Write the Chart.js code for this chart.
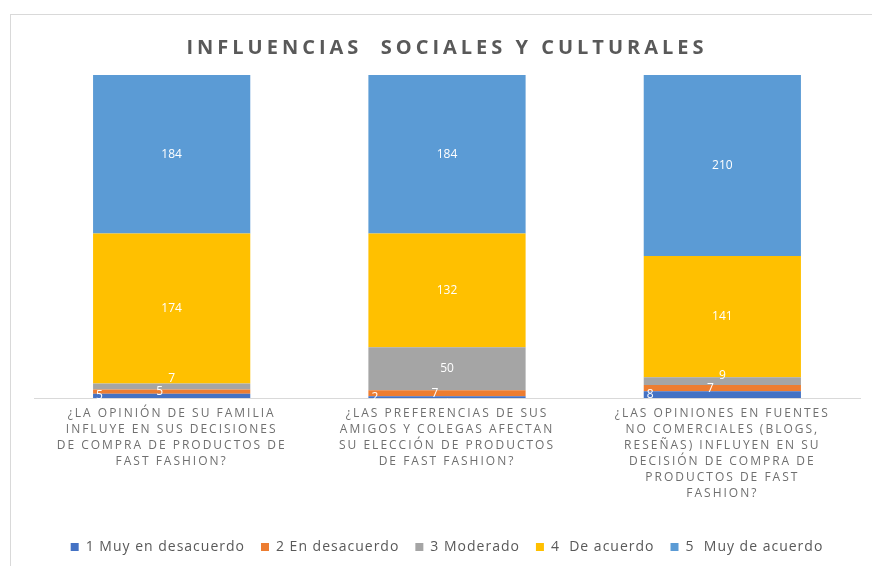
<!DOCTYPE html>
<html><head><meta charset="utf-8">
<script src="https://cdn.jsdelivr.net/npm/chart.js@4.4.1/dist/chart.umd.min.js"></script>
<style>
html,body{margin:0;padding:0;background:#fff;overflow:hidden;width:872px;height:566px}
#frame{position:absolute;left:10px;top:14px;width:900px;height:600px;border:1px solid #d9d9d9;box-sizing:border-box}
#wrap{position:absolute;left:0;top:0;width:872px;height:566px}
</style></head><body>
<div id="frame"></div>
<div id="wrap"><canvas id="c" width="872" height="566"></canvas></div>
<script>
const categories = [
  ['¿LA OPINIÓN DE SU FAMILIA','INFLUYE EN SUS DECISIONES','DE COMPRA DE PRODUCTOS DE','FAST FASHION?'],
  ['¿LAS PREFERENCIAS DE SUS','AMIGOS Y COLEGAS AFECTAN','SU ELECCIÓN DE PRODUCTOS','DE FAST FASHION?'],
  ['¿LAS OPINIONES EN FUENTES','NO COMERCIALES (BLOGS,','RESEÑAS) INFLUYEN EN SU','DECISIÓN DE COMPRA DE','PRODUCTOS DE FAST','FASHION?']
];
const seriesNames = ['1 Muy en desacuerdo','2 En desacuerdo','3 Moderado','4  De acuerdo','5  Muy de acuerdo'];
const muyEnDesacuerdo = [5, 2, 8];
const enDesacuerdo = [5, 7, 7];
const moderado = [7, 50, 9];
const deAcuerdo = [174, 132, 141];
const muyDeAcuerdo = [184, 184, 210];
const seriesColors = ['#4472C4','#ED7D31','#A5A5A5','#FFC000','#5B9BD5'];
const chartTitle = 'INFLUENCIAS  SOCIALES Y CULTURALES';

const seriesValues = [muyEnDesacuerdo, enDesacuerdo, moderado, deAcuerdo, muyDeAcuerdo];

const spacingPlugin = {
  id: 'spacing',
  beforeLayout(chart) {
    const ctx = chart.ctx;
    const wrap = (obj, name, sp) => {
      if (!obj || obj['_sp_' + name]) return;
      const o = obj[name];
      obj[name] = function(...a) { ctx.save(); ctx.letterSpacing = sp; const r = o.apply(this, a); ctx.restore(); return r; };
      obj['_sp_' + name] = true;
    };
    wrap(chart.legend, 'fit', '1px');
    wrap(chart.legend, 'draw', '1px');
    wrap(chart.titleBlock, 'draw', '4px');
    if (chart.scales.x) wrap(chart.scales.x, 'drawLabels', '2px');
  }
};

const valueLabels = {
  id: 'valueLabels',
  afterDatasetsDraw(chart) {
    const ctx = chart.ctx;
    ctx.save();
    ctx.font = '12px "Open Sans"';
    ctx.fillStyle = '#ffffff';
    ctx.textBaseline = 'middle';
    const n = chart.data.labels.length;
    for (let i = 0; i < n; i++) {
      let prevY = null;
      chart.data.datasets.forEach((ds, d) => {
        const el = chart.getDatasetMeta(d).data[i];
        const v = ds.data[i];
        if (!el || !v) return;
        const h = Math.abs(el.base - el.y);
        let x = el.x, y = (el.y + el.base) / 2;
        ctx.textAlign = 'center';
        if (h < 14) {
          if (d === 0) { x = el.x - el.width / 2 + 3; ctx.textAlign = 'left'; }
          else if (d === 1) { x = el.x - 12; }
          else if (prevY !== null) { y = Math.min(y, prevY - 13); }
        }
        ctx.fillText(String(v), x, y);
        if (d >= 1) prevY = y;
      });
    }
    ctx.restore();
  }
};

new Chart(document.getElementById('c'), {
  type: 'bar',
  data: {
    labels: categories,
    datasets: seriesValues.map((vals, k) => ({
      label: seriesNames[k],
      data: vals,
      backgroundColor: seriesColors[k],
      borderWidth: 0,
      barPercentage: 0.571,
      categoryPercentage: 1
    }))
  },
  options: {
    responsive: false,
    animation: false,
    layout: { padding: { left: 34, right: 12, top: 0, bottom: 2 } },
    plugins: {
      title: {
        display: true,
        text: chartTitle,
        color: '#595959',
        font: { family: '"Open Sans"', size: 20, weight: 'bold', lineHeight: 1.2 },
        padding: { top: 36, bottom: 15 }
      },
      legend: {
        position: 'bottom',
        labels: {
          boxWidth: 8, boxHeight: 8, padding: 16,
          color: '#595959',
          font: { family: '"Open Sans"', size: 14 }
        }
      },
      tooltip: { enabled: false }
    },
    scales: {
      x: {
        stacked: true,
        grid: { display: false, drawTicks: false },
        border: { display: true, color: '#d9d9d9', width: 1 },
        ticks: {
          color: '#6f6f6f', maxRotation: 0, autoSkip: false, padding: 8,
          font: { family: '"Open Sans"', size: 12, lineHeight: 1.333 }
        },
        afterFit(scale) { scale.height += 14; }
      },
      y: {
        stacked: true, display: false, min: 0, max: 375
      }
    }
  },
  plugins: [spacingPlugin, valueLabels]
});
</script>
</body></html>
